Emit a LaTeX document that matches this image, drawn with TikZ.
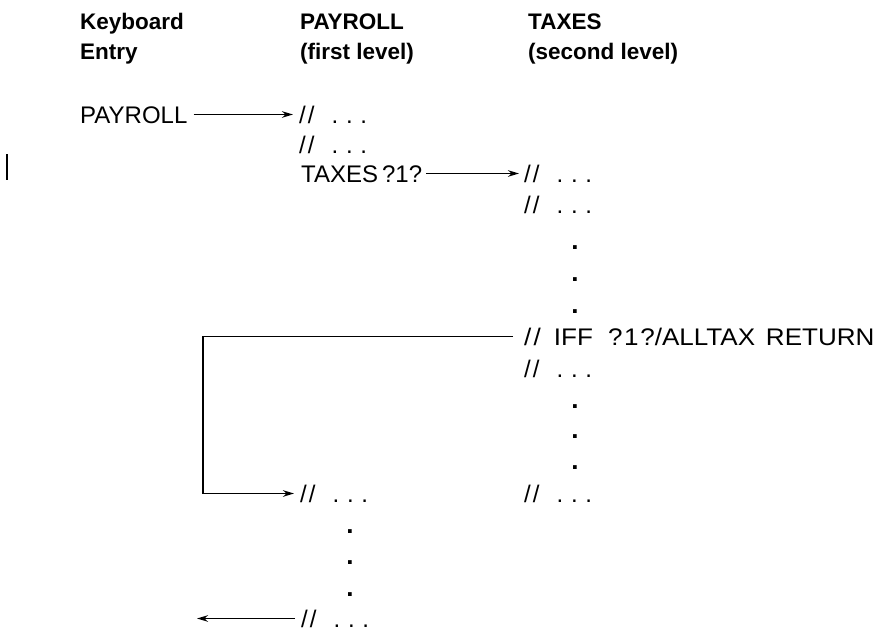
\documentclass[tikz,border=0pt]{standalone}
\usepackage{fontspec}
\usepackage{graphicx}
\setmainfont{Liberation Sans}
\usetikzlibrary{arrows.meta}
\newcommand{\sls}{/\kern2pt/}
\newcommand{\ddd}{\sls\hspace{17pt}.\hspace{7.8pt}.\hspace{7.8pt}.}
\tikzset{
  hdr/.style={anchor=base west, inner sep=0pt, font=\fontsize{22.5}{27}\selectfont\bfseries},
  txt/.style={anchor=base west, inner sep=0pt, text height=17pt, text depth=0pt, font=\fontsize{24}{28}\selectfont},
  dotn/.style={anchor=base, inner sep=0pt, font=\fontsize{26}{28}\selectfont\bfseries},
  conn/.style={line width=1.8pt, -{Stealth[length=11pt,width=6.5pt]}},
}
\begin{document}
\begin{tikzpicture}[x=1pt,y=-1pt]
\useasboundingbox (0,0) rectangle (881,632);
% headers
\node[hdr] (h1a) at (80,29) {Keyboard};
\node[hdr] (h1b) at (80,59) {Entry};
\node[hdr] (h2a) at (300,29) {PAYROLL};
\node[hdr] (h2b) at (300,59) {(first level)};
\node[hdr] (h3a) at (528,29) {TAXES};
\node[hdr] (h3b) at (528,59) {(second level)};
% keyboard entry
\node[txt] (kp) at (80,123) {PAYROLL};
% first level
\node[txt] (p1) at (299,123) {\ddd};
\node[txt] (p2) at (299,153) {\ddd};
\node[txt] (p3) at (301,182) {TAXES\kern4pt?1?};
\node[txt] (p4) at (300,502) {\ddd};
\node[dotn] (pd1) at (350,533) {.};
\node[dotn] (pd2) at (350,564) {.};
\node[dotn] (pd3) at (350,596) {.};
\node[txt] (p5) at (301,627) {\ddd};
% second level
\node[txt] (t1) at (524,182) {\ddd};
\node[txt] (t2) at (524,213) {\ddd};
\node[dotn] (td1) at (575,249) {.};
\node[dotn] (td2) at (575,281) {.};
\node[dotn] (td3) at (575,313) {.};
\node[txt] (tiff) at (524,345) {\scalebox{1.085}[1]{\sls\hspace{12pt}IFF\hspace{14pt}?\kern1.5pt1\kern1.5pt?/ALLTAX\hspace{10pt}RETURN}};
\node[txt] (t3) at (524,377) {\ddd};
\node[dotn] (td4) at (575,408) {.};
\node[dotn] (td5) at (575,438) {.};
\node[dotn] (td6) at (575,469) {.};
\node[txt] (t4) at (524,502) {\ddd};
% connectors
\coordinate (lx) at (203,0);
\coordinate (ex) at (197,0);
\draw[conn] ([xshift=6pt]kp.east) -- ([xshift=-6pt]kp.east -| p1.west);
\draw[conn] ([xshift=4pt]p3.east) -- ([xshift=-5pt]p3.east -| t1.west);
\draw[conn] ([xshift=-11pt]tiff.west) -- (tiff.west -| lx) -- (p4.west -| lx) -- ([xshift=-6pt]p4.west);
\draw[conn] ([xshift=-6pt]p5.west) -- (p5.west -| ex);
% revision bar
\draw[line width=2pt] (7,154) -- (7,180);
\end{tikzpicture}
\end{document}
